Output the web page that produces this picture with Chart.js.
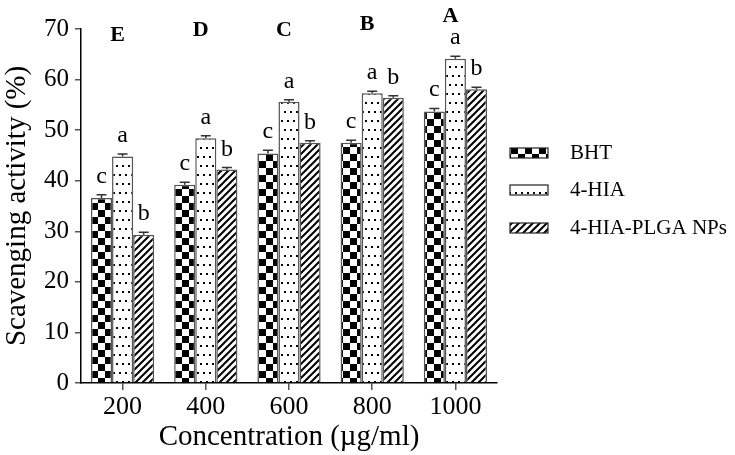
<!DOCTYPE html>
<html>
<head>
<meta charset="utf-8">
<script src="https://cdn.jsdelivr.net/npm/chart.js@4.4.1/dist/chart.umd.min.js"></script>
<style>
  html, body { margin: 0; padding: 0; background: #fff; }
  #wrap { width: 735px; height: 455px; }
</style>
</head>
<body>
<div id="wrap"><canvas id="chart" width="735" height="455"></canvas></div>
<script>
// values
var concentrations = ['200', '400', '600', '800', '1000'];
var seriesNames = ['BHT', '4-HIA', '4-HIA-PLGA NPs'];
var bhtValues = [36.6, 39.2, 45.4, 47.5, 53.7];
var hiaValues = [44.8, 48.4, 55.6, 57.3, 64.1];
var nanoValues = [29.3, 42.2, 47.5, 56.4, 58.1];
var bhtErrors = [0.6, 0.5, 0.6, 0.5, 0.6];
var hiaErrors = [0.5, 0.5, 0.4, 0.4, 0.5];
var nanoErrors = [0.5, 0.4, 0.4, 0.4, 0.4];
var barLetters = [['c', 'c', 'c', 'c', 'c'], ['a', 'a', 'a', 'a', 'a'], ['b', 'b', 'b', 'b', 'b']];
var groupLetters = ['E', 'D', 'C', 'B', 'A'];
var groupLetterLevel = [68.8, 69.8, 69.8, 71.0, 72.6];
var yTicks = [0, 10, 20, 30, 40, 50, 60, 70];

var serif = "'Liberation Serif', 'Times New Roman', serif";

function makeTile(w, h, draw) {
    var c = document.createElement('canvas');
    c.width = w; c.height = h;
    var g = c.getContext('2d');
    g.fillStyle = '#fff';
    g.fillRect(0, 0, w, h);
    draw(g);
    return document.getElementById('chart').getContext('2d').createPattern(c, 'repeat');
}

var checker = makeTile(14, 14, function (g) {
    g.fillStyle = '#000';
    g.fillRect(0, 0, 7, 7);
    g.fillRect(7, 7, 7, 7);
});
var dots = makeTile(12, 18, function (g) {
    g.fillStyle = '#000';
    g.fillRect(2, 3, 2, 2);
    g.fillRect(8, 3, 2, 2);
    g.fillRect(5, 12, 2, 2);
    g.fillRect(11, 12, 1, 2);
    g.fillRect(0, 12, 1, 2);
});
var hatch = makeTile(7, 7, function (g) {
    g.strokeStyle = '#000';
    g.lineWidth = 2;
    g.beginPath();
    g.moveTo(-1, 8); g.lineTo(8, -1);
    g.moveTo(-4, 4); g.lineTo(4, -4);
    g.moveTo(3, 11); g.lineTo(11, 3);
    g.stroke();
});
var fills = [checker, dots, hatch];
var allErrors = [bhtErrors, hiaErrors, nanoErrors];

var annotations = {
    id: 'annotations',
    afterDatasetsDraw: function (chart) {
        var ctx = chart.ctx;
        var y = chart.scales.y, x = chart.scales.x;
        ctx.save();
        chart.data.datasets.forEach(function (ds, i) {
            var meta = chart.getDatasetMeta(i);
            meta.data.forEach(function (bar, j) {
                var top = y.getPixelForValue(ds.data[j] + allErrors[i][j]);
                ctx.strokeStyle = '#333';
                ctx.lineWidth = 1.5;
                ctx.beginPath();
                ctx.moveTo(bar.x, bar.y);
                ctx.lineTo(bar.x, top);
                ctx.moveTo(bar.x - 5, top);
                ctx.lineTo(bar.x + 5, top);
                ctx.stroke();
                ctx.fillStyle = '#000';
                ctx.font = '24px ' + serif;
                ctx.textAlign = 'center';
                ctx.textBaseline = 'alphabetic';
                ctx.fillText(barLetters[i][j], bar.x, top - 12);
            });
        });
        ctx.font = 'bold 22px ' + serif;
        ctx.textAlign = 'center';
        ctx.textBaseline = 'middle';
        groupLetters.forEach(function (l, j) {
            ctx.fillText(l, x.getPixelForValue(j) - 5, y.getPixelForValue(groupLetterLevel[j]));
        });
        // legend
        var ly = [153, 190, 228];
        seriesNames.forEach(function (name, i) {
            ctx.fillStyle = fills[i];
            ctx.fillRect(510, ly[i] - 5, 38, 10);
            ctx.strokeStyle = '#222';
            ctx.lineWidth = 1.2;
            ctx.strokeRect(510, ly[i] - 5, 38, 10);
            ctx.fillStyle = '#000';
            ctx.font = '21px ' + serif;
            ctx.textAlign = 'left';
            ctx.textBaseline = 'middle';
            ctx.fillText(name, 570, ly[i]);
        });
        ctx.restore();
    }
};

var datasets = [bhtValues, hiaValues, nanoValues].map(function (vals, i) {
    return {
        label: seriesNames[i],
        data: vals,
        backgroundColor: fills[i],
        borderColor: '#555',
        borderWidth: 1.5,
        borderSkipped: 'bottom',
        categoryPercentage: 0.76,
        barPercentage: 1.0
    };
});

new Chart(document.getElementById('chart'), {
    type: 'bar',
    data: { labels: concentrations, datasets: datasets },
    options: {
        responsive: false,
        animation: false,
        layout: { padding: { top: 29, right: 238, left: 0, bottom: 0 } },
        plugins: { legend: { display: false }, tooltip: { enabled: false } },
        scales: {
            x: {
                grid: { display: true, drawOnChartArea: false, offset: false, tickLength: 7, color: '#555', lineWidth: 1.5 },
                border: { color: '#000', width: 1.5 },
                ticks: { color: '#000', font: { family: serif, size: 26 }, padding: 2 },
                title: { display: true, text: 'Concentration (µg/ml)', color: '#000', font: { family: serif, size: 29 }, padding: { top: -7, bottom: 0 } },
                afterFit: function (s) { s.height = 72; }
            },
            y: {
                min: 0, max: 70,
                afterBuildTicks: function (s) { s.ticks = yTicks.map(function (v) { return { value: v }; }); },
                grid: { display: true, drawOnChartArea: false, tickLength: 6, color: '#555', lineWidth: 1.5 },
                border: { color: '#000', width: 1.5 },
                ticks: { color: '#000', font: { family: serif, size: 25 }, padding: 6 },
                title: { display: true, text: 'Scavenging activity (%)', color: '#000', font: { family: serif, size: 29 }, padding: { top: 0, bottom: 0 } },
                afterFit: function (s) { s.width = 81; }
            }
        }
    },
    plugins: [annotations]
});
</script>
</body>
</html>
